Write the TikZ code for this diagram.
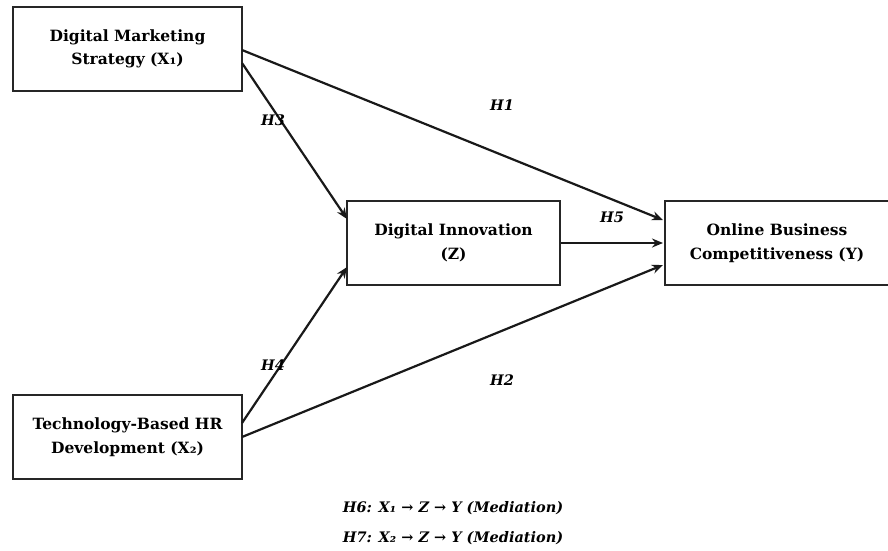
\documentclass[tikz,border=0pt]{standalone}
\usepackage{fontspec}
\setmainfont{DejaVu Serif}
\usetikzlibrary{arrows.meta}
\begin{document}
\begin{tikzpicture}[x=1pt,y=-1pt,
  boxnode/.style={draw=black!85,line width=2.6pt,minimum width=229pt,minimum height=84pt,align=center,font=\bfseries\fontsize{15.5}{23.5}\selectfont,inner sep=0pt},
  arr/.style={draw=black!90,line width=2.2pt,-{Stealth[length=11pt,width=9pt]}},
  hyp/.style={font=\bfseries\itshape\fontsize{14.5}{16}\selectfont},
  note/.style={font=\bfseries\itshape\fontsize{14.5}{16}\selectfont}]
\useasboundingbox (0,0) rectangle (888,550);
\node[boxnode] (x1) at (127.5,49) {Digital Marketing\\Strategy (X₁)};
\node[boxnode] (x2) at (127.5,437) {Technology-Based HR\\Development (X₂)};
\node[boxnode,minimum width=213pt] (z) at (453.5,243) {Digital Innovation\\(Z)};
\node[boxnode,minimum width=224pt] (y) at (777,243) {Online Business\\Competitiveness (Y)};
\coordinate (x1a) at (242,50);
\coordinate (x1b) at (242,63);
\coordinate (x2a) at (242,423);
\coordinate (x2b) at (242,437);
\coordinate (ya) at (663,220);
\coordinate (yb) at (663,243);
\coordinate (yc) at (663,265);
\coordinate (za) at (347,219);
\coordinate (zb) at (347,267);
\draw[arr] (x1a) -- (ya);
\draw[arr] (x1b) -- (za);
\draw[arr] (x2a) -- (zb);
\draw[arr] (x2b) -- (yc);
\draw[arr] (z.east) -- (yb);
\node[hyp] (h1) at (502,105) {H1};
\node[hyp] (h3) at (273,120) {H3};
\node[hyp] (h4) at (273,365) {H4};
\node[hyp] (h2) at (502,380) {H2};
\node[hyp] (h5) at (612,217) {H5};
\node[note] (h6) at (453,508) {H6: X₁ → Z → Y (Mediation)};
\node[note] (h7) at (453,538) {H7: X₂ → Z → Y (Mediation)};
\end{tikzpicture}
\end{document}
